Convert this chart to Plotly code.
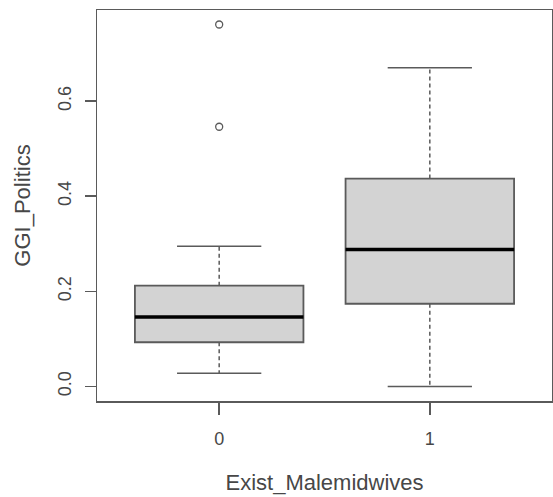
import plotly.graph_objects as go

# ---- data ----
groups = ["0", "1"]
positions = [1, 2]
lower_whisker = [0.028, 0.000]
q1 = [0.093, 0.174]
median = [0.146, 0.288]
q3 = [0.212, 0.437]
upper_whisker = [0.295, 0.670]
outliers = [[0.761, 0.546], []]

y_ticks = [0.0, 0.2, 0.4, 0.6]
y_tick_text = ["0.0", "0.2", "0.4", "0.6"]

# ---- style ----
BOX_W = 0.8
CAP_W = BOX_W * 0.5
LINE = "#5a5a5a"
TEXT = "#474747"
FONT = "Liberation Sans, Arial, sans-serif"

fig = go.Figure()

# box bodies
for i, p in enumerate(positions):
    fig.add_trace(go.Box(
        x=[p], q1=[q1[i]], median=[median[i]], q3=[q3[i]],
        lowerfence=[q1[i]], upperfence=[q3[i]],
        width=BOX_W, whiskerwidth=0, boxpoints=False,
        fillcolor="#d3d3d3", line=dict(color=LINE, width=1.8),
        showlegend=False, hoverinfo="skip",
    ))

# dashed whiskers, caps, median lines, outliers
for i, p in enumerate(positions):
    for a, b in [(q3[i], upper_whisker[i]), (q1[i], lower_whisker[i])]:
        fig.add_trace(go.Scatter(
            x=[p, p], y=[a, b], mode="lines",
            line=dict(color=LINE, width=1.5, dash="4px,3px"),
            showlegend=False, hoverinfo="skip",
        ))
    for v in (upper_whisker[i], lower_whisker[i]):
        fig.add_trace(go.Scatter(
            x=[p - CAP_W / 2, p + CAP_W / 2], y=[v, v], mode="lines",
            line=dict(color=LINE, width=1.6),
            showlegend=False, hoverinfo="skip",
        ))
    fig.add_trace(go.Scatter(
        x=[p - BOX_W / 2, p + BOX_W / 2], y=[median[i], median[i]], mode="lines",
        line=dict(color="#000000", width=3.5),
        showlegend=False, hoverinfo="skip",
    ))
    if outliers[i]:
        fig.add_trace(go.Scatter(
            x=[p] * len(outliers[i]), y=outliers[i], mode="markers",
            marker=dict(symbol="circle-open", size=7, color=LINE,
                        line=dict(width=1.3, color=LINE)),
            showlegend=False, hoverinfo="skip",
        ))

ymin = 0.0
ymax = 0.761
pad = (ymax - ymin) * 0.04

fig.update_layout(
    width=553, height=497,
    margin=dict(l=97, r=1, t=10, b=96, autoexpand=False),
    paper_bgcolor="white", plot_bgcolor="white",
    font=dict(family=FONT, size=18, color=TEXT),
    xaxis=dict(
        range=[0.42, 2.58], tickmode="array", tickvals=positions, ticktext=groups,
        showgrid=False, zeroline=False, automargin=False,
        showline=True, mirror=True, linecolor=LINE, linewidth=1.5,
        ticks="outside", ticklen=12, tickwidth=1.5, tickcolor=LINE,
        ticklabelstandoff=9,
        title=dict(text="Exist_Malemidwives", standoff=26),
    ),
    yaxis=dict(
        range=[ymin - pad, ymax + pad], tickmode="array",
        tickvals=y_ticks, ticktext=y_tick_text, tickangle=-90,
        showgrid=False, zeroline=False, automargin=False,
        showline=True, mirror=True, linecolor=LINE, linewidth=1.5,
        ticks="outside", ticklen=11, tickwidth=1.5, tickcolor=LINE,
        ticklabelstandoff=6,
        title=dict(text="GGI_Politics", standoff=18),
    ),
)

fig.write_html(
    "out.html",
    config={"displayModeBar": False, "staticPlot": True},
    post_script="document.body.style.margin='0';document.body.style.overflow='hidden';",
)
